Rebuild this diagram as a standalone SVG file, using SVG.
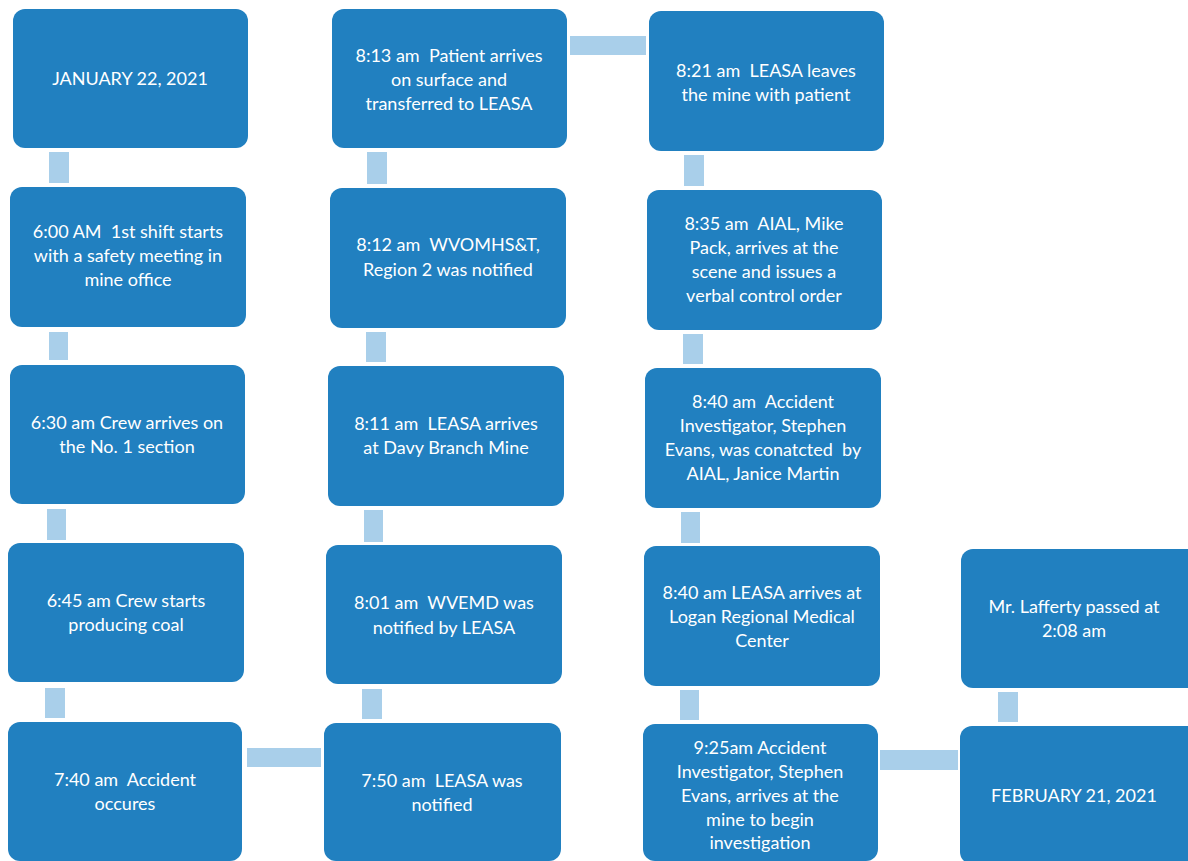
<svg xmlns="http://www.w3.org/2000/svg" width="1188" height="861" viewBox="0 0 1188 861">
<style>
.box{fill:#2180c0;}
.con{fill:#a9cfea;}
text{font-family:Lato,"Open Sans","Liberation Sans",sans-serif;font-size:18px;fill:#ffffff;text-anchor:middle;white-space:pre;}
</style>
<rect width="1188" height="861" fill="#ffffff"/>
<g id="connectors">
<rect class="con" x="49" y="152" width="20" height="31"/>
<rect class="con" x="49" y="332" width="19" height="28"/>
<rect class="con" x="47" y="509" width="19" height="31"/>
<rect class="con" x="45" y="688" width="20" height="30"/>
<rect class="con" x="247" y="748" width="74" height="19"/>
<rect class="con" x="367" y="152" width="20" height="32"/>
<rect class="con" x="366" y="332" width="20" height="30"/>
<rect class="con" x="364" y="510" width="19" height="32"/>
<rect class="con" x="362" y="689" width="20" height="30"/>
<rect class="con" x="570" y="36" width="76" height="19"/>
<rect class="con" x="684" y="155" width="20" height="31"/>
<rect class="con" x="683" y="334" width="20" height="30"/>
<rect class="con" x="681" y="512" width="19" height="31"/>
<rect class="con" x="680" y="690" width="19" height="30"/>
<rect class="con" x="880" y="750" width="78" height="20"/>
<rect class="con" x="998" y="692" width="20" height="30"/>
</g>
<g id="n1"><rect class="box" x="13" y="9" width="235" height="139" rx="12"/><text x="130" y="85">JANUARY 22, 2021</text></g>
<g id="n2"><rect class="box" x="10" y="187" width="236" height="140" rx="12"/><text x="128" y="238" xml:space="preserve">6:00 AM  1st shift starts</text><text x="128" y="262">with a safety meeting in</text><text x="128" y="286">mine office</text></g>
<g id="n3"><rect class="box" x="10" y="365" width="235" height="139" rx="12"/><text x="127" y="429">6:30 am Crew arrives on</text><text x="127" y="453">the No. 1 section</text></g>
<g id="n4"><rect class="box" x="8" y="543" width="236" height="139" rx="12"/><text x="126" y="607">6:45 am Crew starts</text><text x="126" y="631">producing coal</text></g>
<g id="n5"><rect class="box" x="8" y="722" width="234" height="139" rx="12"/><text x="125" y="786" xml:space="preserve">7:40 am  Accident</text><text x="125" y="810">occures</text></g>
<g id="n6"><rect class="box" x="332" y="9" width="235" height="139" rx="12"/><text x="449" y="62" xml:space="preserve">8:13 am  Patient arrives</text><text x="449" y="86">on surface and</text><text x="449" y="110">transferred to LEASA</text></g>
<g id="n7"><rect class="box" x="330" y="188" width="236" height="140" rx="12"/><text x="448" y="251" xml:space="preserve">8:12 am  WVOMHS&amp;T,</text><text x="448" y="276">Region 2 was notified</text></g>
<g id="n8"><rect class="box" x="328" y="366" width="236" height="140" rx="12"/><text x="446" y="430" xml:space="preserve">8:11 am  LEASA arrives</text><text x="446" y="454">at Davy Branch Mine</text></g>
<g id="n9"><rect class="box" x="326" y="545" width="236" height="139" rx="12"/><text x="444" y="609" xml:space="preserve">8:01 am  WVEMD was</text><text x="444" y="634">notified by LEASA</text></g>
<g id="n10"><rect class="box" x="324" y="723" width="237" height="138" rx="12"/><text x="442" y="787" xml:space="preserve">7:50 am  LEASA was</text><text x="442" y="811">notified</text></g>
<g id="n11"><rect class="box" x="649" y="11" width="235" height="140" rx="12"/><text x="766" y="77" xml:space="preserve">8:21 am  LEASA leaves</text><text x="766" y="101">the mine with patient</text></g>
<g id="n12"><rect class="box" x="647" y="190" width="235" height="140" rx="12"/><text x="764" y="230" xml:space="preserve">8:35 am  AIAL, Mike</text><text x="764" y="254">Pack, arrives at the</text><text x="764" y="278">scene and issues a</text><text x="764" y="302">verbal control order</text></g>
<g id="n13"><rect class="box" x="645" y="368" width="236" height="140" rx="12"/><text x="763" y="408" xml:space="preserve">8:40 am  Accident</text><text x="763" y="432">Investigator, Stephen</text><text x="763" y="456" xml:space="preserve">Evans, was conatcted  by</text><text x="763" y="480">AIAL, Janice Martin</text></g>
<g id="n14"><rect class="box" x="644" y="546" width="236" height="140" rx="12"/><text x="762" y="599">8:40 am LEASA arrives at</text><text x="762" y="623">Logan Regional Medical</text><text x="762" y="647">Center</text></g>
<g id="n15"><rect class="box" x="643" y="724" width="235" height="137" rx="12"/><text x="760" y="754">9:25am Accident</text><text x="760" y="778">Investigator, Stephen</text><text x="760" y="802">Evans, arrives at the</text><text x="760" y="826">mine to begin</text><text x="760" y="849">investigation</text></g>
<g id="n16"><rect class="box" x="961" y="549" width="240" height="139" rx="12"/><text x="1074" y="613">Mr. Lafferty passed at</text><text x="1074" y="637">2:08 am</text></g>
<g id="n17"><rect class="box" x="960" y="726" width="240" height="138" rx="12"/><text x="1074" y="802">FEBRUARY 21, 2021</text></g>
</svg>
